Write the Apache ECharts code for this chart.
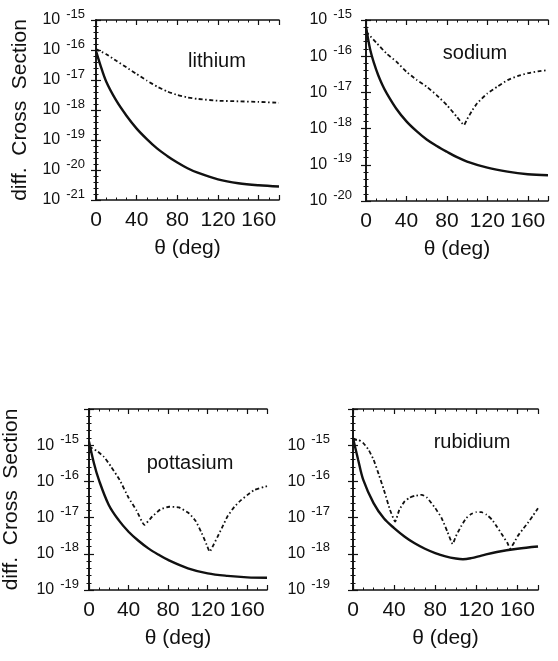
<!DOCTYPE html>
<html><head><meta charset="utf-8">
<script src="https://cdn.jsdelivr.net/npm/echarts@6/dist/echarts.min.js"></script>
<style>html,body{margin:0;padding:0;background:#fff}#c{width:558px;height:661px}</style>
</head><body><div id="c"></div>
<script>
// Values are log10 of the differential cross section: [theta (deg), log10 value]
const lithiumSolid = [[0,-16.03],[4,-16.47],[10,-17.05],[20,-17.69],[30,-18.19],[40,-18.62],[50,-18.97],[60,-19.28],[70,-19.53],[80,-19.75],[90,-19.94],[100,-20.09],[120,-20.31],[140,-20.44],[160,-20.51],[180,-20.55]];
const lithiumDashed = [[0,-15.97],[10,-16.14],[20,-16.36],[30,-16.58],[40,-16.8],[50,-17.02],[60,-17.22],[70,-17.38],[80,-17.5],[90,-17.58],[100,-17.63],[120,-17.69],[140,-17.71],[160,-17.73],[180,-17.76]];
const sodiumSolid = [[0,-15.18],[4,-15.8],[8,-16.2],[12,-16.52],[16,-16.78],[20,-17.0],[30,-17.45],[40,-17.8],[50,-18.07],[60,-18.3],[70,-18.48],[80,-18.64],[90,-18.79],[100,-18.91],[120,-19.08],[140,-19.19],[160,-19.26],[180,-19.29]];
const sodiumDashed = [[0,-15.32],[10,-15.62],[20,-15.92],[30,-16.15],[40,-16.43],[50,-16.65],[60,-16.84],[70,-17.08],[80,-17.35],[90,-17.68],[97,-17.9],[100,-17.74],[105,-17.5],[110,-17.3],[120,-17.03],[130,-16.84],[140,-16.66],[150,-16.55],[160,-16.47],[170,-16.42],[180,-16.38]];
const potassiumSolid = [[0,-14.9],[5,-15.5],[10,-15.96],[20,-16.65],[30,-17.07],[40,-17.39],[50,-17.64],[60,-17.85],[70,-18.02],[80,-18.17],[100,-18.4],[120,-18.54],[140,-18.61],[160,-18.65],[180,-18.66]];
const potassiumDashed = [[0,-15.04],[8,-15.16],[15,-15.32],[22,-15.58],[31,-15.96],[40,-16.45],[48,-16.8],[56,-17.2],[64,-16.97],[72,-16.78],[81,-16.7],[91,-16.72],[101,-16.88],[108,-17.1],[114,-17.43],[119,-17.75],[122,-17.94],[126,-17.75],[130,-17.53],[135,-17.25],[140,-16.97],[147,-16.7],[154,-16.51],[160,-16.38],[167,-16.24],[180,-16.13]];
const rubidiumSolid = [[0,-14.8],[5,-15.4],[10,-15.96],[20,-16.6],[30,-17.02],[40,-17.29],[50,-17.52],[60,-17.71],[70,-17.86],[80,-17.98],[90,-18.07],[100,-18.13],[107,-18.15],[115,-18.12],[125,-18.05],[140,-17.95],[160,-17.86],[180,-17.8]];
const rubidiumDashed = [[0,-14.85],[5,-14.85],[10,-14.94],[15,-15.12],[20,-15.4],[25,-15.8],[30,-16.23],[36,-16.79],[41,-17.11],[45,-16.79],[50,-16.56],[55,-16.45],[60,-16.4],[67,-16.37],[72,-16.45],[80,-16.74],[86,-17.0],[92,-17.4],[97,-17.73],[100,-17.52],[105,-17.25],[110,-17.02],[115,-16.9],[120,-16.85],[125,-16.85],[130,-16.92],[135,-17.05],[140,-17.25],[145,-17.47],[150,-17.69],[153,-17.85],[157,-17.68],[160,-17.52],[165,-17.33],[170,-17.15],[175,-16.95],[180,-16.74]];

const xTickValues = [0, 40, 80, 120, 160];
const elementNames = ['lithium', 'sodium', 'pottasium', 'rubidium'];
const yTitle = 'diff.  Cross  Section';
const xTitle = 'θ (deg)';

const panels = [
  {solid: lithiumSolid, dashed: lithiumDashed, yMin: -21, yMax: -15, showMax: true,
   grid: {left: 96, top: 20, width: 183, height: 180}, yMargin: 11, yName: true, yNameGap: 65, label: [217, 61]},
  {solid: sodiumSolid, dashed: sodiumDashed, yMin: -20, yMax: -15, showMax: true,
   grid: {left: 366, top: 20, width: 182, height: 181}, yMargin: 14, yName: false, yNameGap: 65, label: [475, 53]},
  {solid: potassiumSolid, dashed: potassiumDashed, yMin: -19, yMax: -14, showMax: false,
   grid: {left: 85, top: 409, width: 182, height: 181}, yMargin: 10, yName: true, yNameGap: 67, label: [190, 463]},
  {solid: rubidiumSolid, dashed: rubidiumDashed, yMin: -19, yMax: -14, showMax: false,
   grid: {left: 353, top: 409, width: 185, height: 181}, yMargin: 23, yName: false, yNameGap: 65, label: [472, 442]}
];

const FONT = '"Liberation Sans", Arial, Helvetica, sans-serif';
const INK = '#111';

const grids = [], xAxes = [], yAxes = [], series = [], graphics = [];
panels.forEach((p, i) => {
  grids.push(Object.assign({containLabel: false}, p.grid));
  const baseX = {
    type: 'value', gridIndex: i, min: 0, max: 180, interval: 40,
    axisLine: {show: true, lineStyle: {color: INK, width: 1.6}},
    axisTick: {show: true, inside: true, length: 5, lineStyle: {color: INK, width: 1.2}},
    minorTick: {show: true, splitNumber: 4, length: 2.5, lineStyle: {color: INK, width: 1}},
    splitLine: {show: false}
  };
  xAxes.push(Object.assign({}, baseX, {
    position: 'bottom',
    axisLabel: {show: true, showMaxLabel: false, margin: 10, color: INK, fontFamily: FONT, fontSize: 21,
      formatter: v => xTickValues.indexOf(v) >= 0 ? String(v) : ''},
    name: xTitle, nameLocation: 'middle', nameGap: 38,
    nameTextStyle: {color: INK, fontFamily: FONT, fontSize: 21}
  }));
  xAxes.push(Object.assign({}, baseX, {position: 'top', axisLabel: {show: false}}));
  const baseY = {
    type: 'value', gridIndex: i, min: p.yMin, max: p.yMax, interval: 1,
    axisLine: {show: true, lineStyle: {color: INK, width: 1.6}},
    axisTick: {show: true, inside: true, length: 5, lineStyle: {color: INK, width: 1.2}},
    minorTick: {show: true, splitNumber: 5, length: 2.5, lineStyle: {color: INK, width: 1}},
    splitLine: {show: false}
  };
  yAxes.push(Object.assign({}, baseY, {
    position: 'left',
    axisLabel: {
      show: true, margin: p.yMargin, showMaxLabel: p.showMax, showMinLabel: true,
      formatter: v => '{a|10}{b|' + v + '}',
      rich: {
        a: {fontFamily: FONT, fontSize: 16, color: INK},
        b: {fontFamily: FONT, fontSize: 13, color: INK, padding: [0, 0, 12, 6]}
      }
    },
    name: p.yName ? yTitle : '', nameLocation: 'middle', nameGap: p.yNameGap, nameRotate: 90,
    nameTextStyle: {color: INK, fontFamily: FONT, fontSize: 21}
  }));
  yAxes.push(Object.assign({}, baseY, {position: 'right', axisLabel: {show: false}}));
  series.push({
    type: 'line', xAxisIndex: 2 * i, yAxisIndex: 2 * i, data: p.solid, showSymbol: false,
    smooth: 0.35, lineStyle: {color: INK, width: 2.4}, z: 3, animation: false
  });
  series.push({
    type: 'line', xAxisIndex: 2 * i, yAxisIndex: 2 * i, data: p.dashed, showSymbol: false,
    smooth: 0.15, lineStyle: {color: INK, width: 1.8, type: [4, 2.5, 1.5, 2.5]}, z: 2, animation: false
  });
  graphics.push({
    type: 'text', x: p.label[0], y: p.label[1],
    style: {text: elementNames[i], fill: INK, font: '20px ' + FONT, textAlign: 'center', textVerticalAlign: 'middle'}
  });
});

const chart = echarts.init(document.getElementById('c'), null, {renderer: 'canvas'});
chart.setOption({
  backgroundColor: '#fff',
  animation: false,
  grid: grids, xAxis: xAxes, yAxis: yAxes, series: series, graphic: graphics
});
</script></body></html>
